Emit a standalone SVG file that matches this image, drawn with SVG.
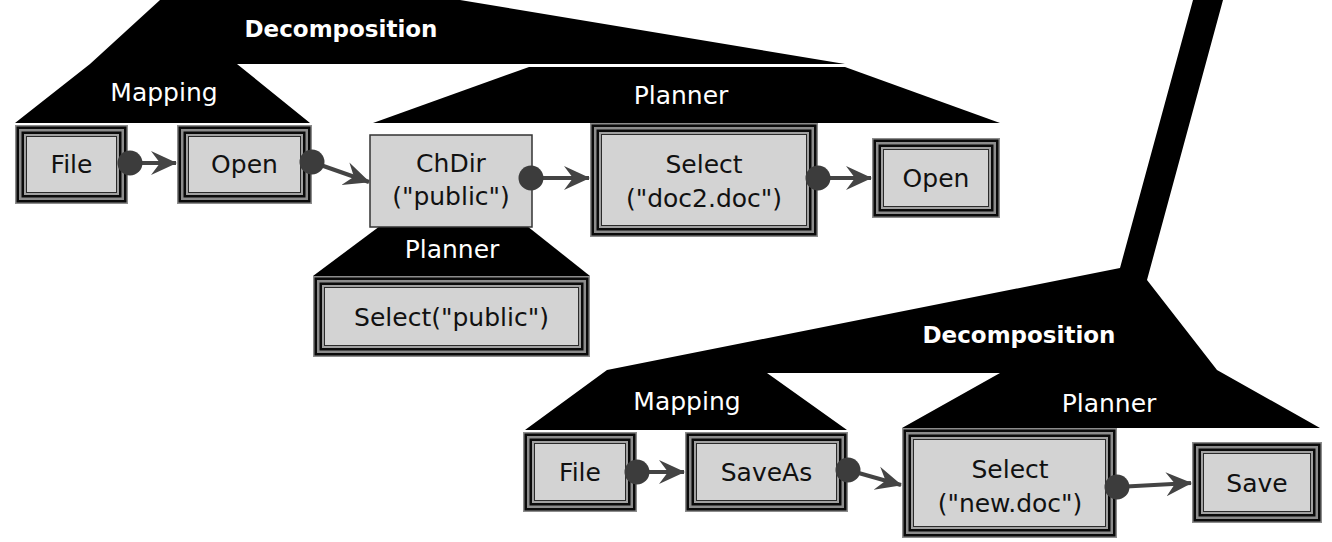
<svg xmlns="http://www.w3.org/2000/svg" width="1332" height="542" viewBox="0 0 1332 542">
<defs>
<style>
.blk{fill:#000}
.t0{fill:#8c8c8c}
.t1{fill:#0a0a0a}
.t3{fill:#a0a0a0}
.t4{fill:#d3d3d3;stroke:#2a2a2a;stroke-width:1}
.single{fill:#d3d3d3;stroke:#333;stroke-width:1.5}
.nt{font-family:"DejaVu Sans",sans-serif;font-size:25px;fill:#111;text-anchor:middle}
.lb{font-family:"DejaVu Sans",sans-serif;font-size:25px;fill:#fff;text-anchor:middle}
.dc{font-family:"DejaVu Sans",sans-serif;font-size:23px;font-weight:bold;fill:#fff;text-anchor:middle}
.ln{stroke:#444;stroke-width:4;fill:none;marker-end:url(#arr)}
.dot{fill:#3c3c3c}
</style>
<marker id="arr" markerUnits="userSpaceOnUse" markerWidth="26" markerHeight="26" refX="25" refY="13" orient="auto" viewBox="0 0 26 26">
<path d="M0,1 L26,13 L0,25 L9,13 Z" fill="#444"/>
</marker>
</defs>

<g id="shapes">
<polygon id="decomp-top" class="blk" points="160,0 460,0 845,64 237,64 310,123 15,123 90,64"/>
<polygon id="planner-top" class="blk" points="529,67 845,67 1000,123 373,123"/>
<polygon id="planner-low" class="blk" points="380,226 527,226 590,276 313,276"/>
<polygon id="decomp-bottom" class="blk" points="1193,0 1223,0 1147,280 1217,370 1320,428 902,428 1000,373 767,373 847,430 525,430 607,370 1120,268"/>
</g>

<g id="labels">
<text class="dc" x="341" y="37">Decomposition</text>
<text class="lb" x="164" y="101">Mapping</text>
<text class="lb" x="681" y="104">Planner</text>
<text class="lb" x="452" y="258">Planner</text>
<text class="dc" x="1019" y="343">Decomposition</text>
<text class="lb" x="687" y="410">Mapping</text>
<text class="lb" x="1109" y="412">Planner</text>
</g>

<g id="node-file1">
<rect class="t0" x="15" y="125" width="113" height="79"/>
<rect class="t1" x="16.5" y="126.5" width="110" height="76"/>
<rect class="t0" x="19" y="129" width="105" height="71"/>
<rect class="t1" x="21.5" y="131.5" width="100" height="66"/>
<rect class="t3" x="24" y="134" width="95" height="61"/>
<rect class="t4" x="26.5" y="136.5" width="90" height="56"/>
<text class="nt" x="71.5" y="173">File</text>
</g>

<g id="node-open1">
<rect class="t0" x="177" y="125" width="135" height="79"/>
<rect class="t1" x="178.5" y="126.5" width="132" height="76"/>
<rect class="t0" x="181" y="129" width="127" height="71"/>
<rect class="t1" x="183.5" y="131.5" width="122" height="66"/>
<rect class="t3" x="186" y="134" width="117" height="61"/>
<rect class="t4" x="188.5" y="136.5" width="112" height="56"/>
<text class="nt" x="244.5" y="173">Open</text>
</g>

<g id="node-chdir">
<rect class="single" x="370" y="135" width="162" height="92"/>
<text class="nt" x="451" y="172">ChDir</text>
<text class="nt" x="451" y="205">("public")</text>
</g>

<g id="node-select-doc2">
<rect class="t0" x="590" y="123" width="228" height="114"/>
<rect class="t1" x="591.5" y="124.5" width="225" height="111"/>
<rect class="t0" x="594" y="127" width="220" height="106"/>
<rect class="t1" x="596.5" y="129.5" width="215" height="101"/>
<rect class="t3" x="599" y="132" width="210" height="96"/>
<rect class="t4" x="601.5" y="134.5" width="205" height="91"/>
<text class="nt" x="704" y="173">Select</text>
<text class="nt" x="704" y="207">("doc2.doc")</text>
</g>

<g id="node-open2">
<rect class="t0" x="872" y="138" width="128" height="80"/>
<rect class="t1" x="873.5" y="139.5" width="125" height="77"/>
<rect class="t0" x="876" y="142" width="120" height="72"/>
<rect class="t1" x="878.5" y="144.5" width="115" height="67"/>
<rect class="t3" x="881" y="147" width="110" height="62"/>
<rect class="t4" x="883.5" y="149.5" width="105" height="57"/>
<text class="nt" x="936" y="187">Open</text>
</g>

<g id="node-select-public">
<rect class="t0" x="313" y="276" width="277" height="81"/>
<rect class="t1" x="314.5" y="277.5" width="274" height="78"/>
<rect class="t0" x="317" y="280" width="269" height="73"/>
<rect class="t1" x="319.5" y="282.5" width="264" height="68"/>
<rect class="t3" x="322" y="285" width="259" height="63"/>
<rect class="t4" x="324.5" y="287.5" width="254" height="58"/>
<text class="nt" x="451.5" y="326">Select("public")</text>
</g>

<g id="node-file2">
<rect class="t0" x="523" y="432" width="114" height="80"/>
<rect class="t1" x="524.5" y="433.5" width="111" height="77"/>
<rect class="t0" x="527" y="436" width="106" height="72"/>
<rect class="t1" x="529.5" y="438.5" width="101" height="67"/>
<rect class="t3" x="532" y="441" width="96" height="62"/>
<rect class="t4" x="534.5" y="443.5" width="91" height="57"/>
<text class="nt" x="580" y="481">File</text>
</g>

<g id="node-saveas">
<rect class="t0" x="685" y="432" width="163" height="80"/>
<rect class="t1" x="686.5" y="433.5" width="160" height="77"/>
<rect class="t0" x="689" y="436" width="155" height="72"/>
<rect class="t1" x="691.5" y="438.5" width="150" height="67"/>
<rect class="t3" x="694" y="441" width="145" height="62"/>
<rect class="t4" x="696.5" y="443.5" width="140" height="57"/>
<text class="nt" x="766.5" y="481">SaveAs</text>
</g>

<g id="node-select-new">
<rect class="t0" x="902" y="428" width="215" height="110"/>
<rect class="t1" x="903.5" y="429.5" width="212" height="107"/>
<rect class="t0" x="906" y="432" width="207" height="102"/>
<rect class="t1" x="908.5" y="434.5" width="202" height="97"/>
<rect class="t3" x="911" y="437" width="197" height="92"/>
<rect class="t4" x="913.5" y="439.5" width="192" height="87"/>
<text class="nt" x="1010" y="478">Select</text>
<text class="nt" x="1010" y="512">("new.doc")</text>
</g>

<g id="node-save">
<rect class="t0" x="1192" y="442" width="130" height="81"/>
<rect class="t1" x="1193.5" y="443.5" width="127" height="78"/>
<rect class="t0" x="1196" y="446" width="122" height="73"/>
<rect class="t1" x="1198.5" y="448.5" width="117" height="68"/>
<rect class="t3" x="1201" y="451" width="112" height="63"/>
<rect class="t4" x="1203.5" y="453.5" width="107" height="58"/>
<text class="nt" x="1257" y="492">Save</text>
</g>

<g id="connectors">
<line class="ln" x1="130" y1="163" x2="176" y2="163"/>
<circle class="dot" cx="130" cy="163" r="12.5"/>
<line class="ln" x1="312" y1="162" x2="369" y2="182"/>
<circle class="dot" cx="312" cy="162" r="12.5"/>
<line class="ln" x1="531" y1="178" x2="589" y2="178"/>
<circle class="dot" cx="531" cy="178" r="12.5"/>
<line class="ln" x1="818" y1="178" x2="871" y2="178"/>
<circle class="dot" cx="818" cy="178" r="12.5"/>
<line class="ln" x1="637" y1="472" x2="684" y2="472"/>
<circle class="dot" cx="637" cy="472" r="12.5"/>
<line class="ln" x1="848" y1="470" x2="901" y2="485"/>
<circle class="dot" cx="848" cy="470" r="12.5"/>
<line class="ln" x1="1117" y1="487" x2="1191" y2="483"/>
<circle class="dot" cx="1117" cy="487" r="12.5"/>
</g>
</svg>
